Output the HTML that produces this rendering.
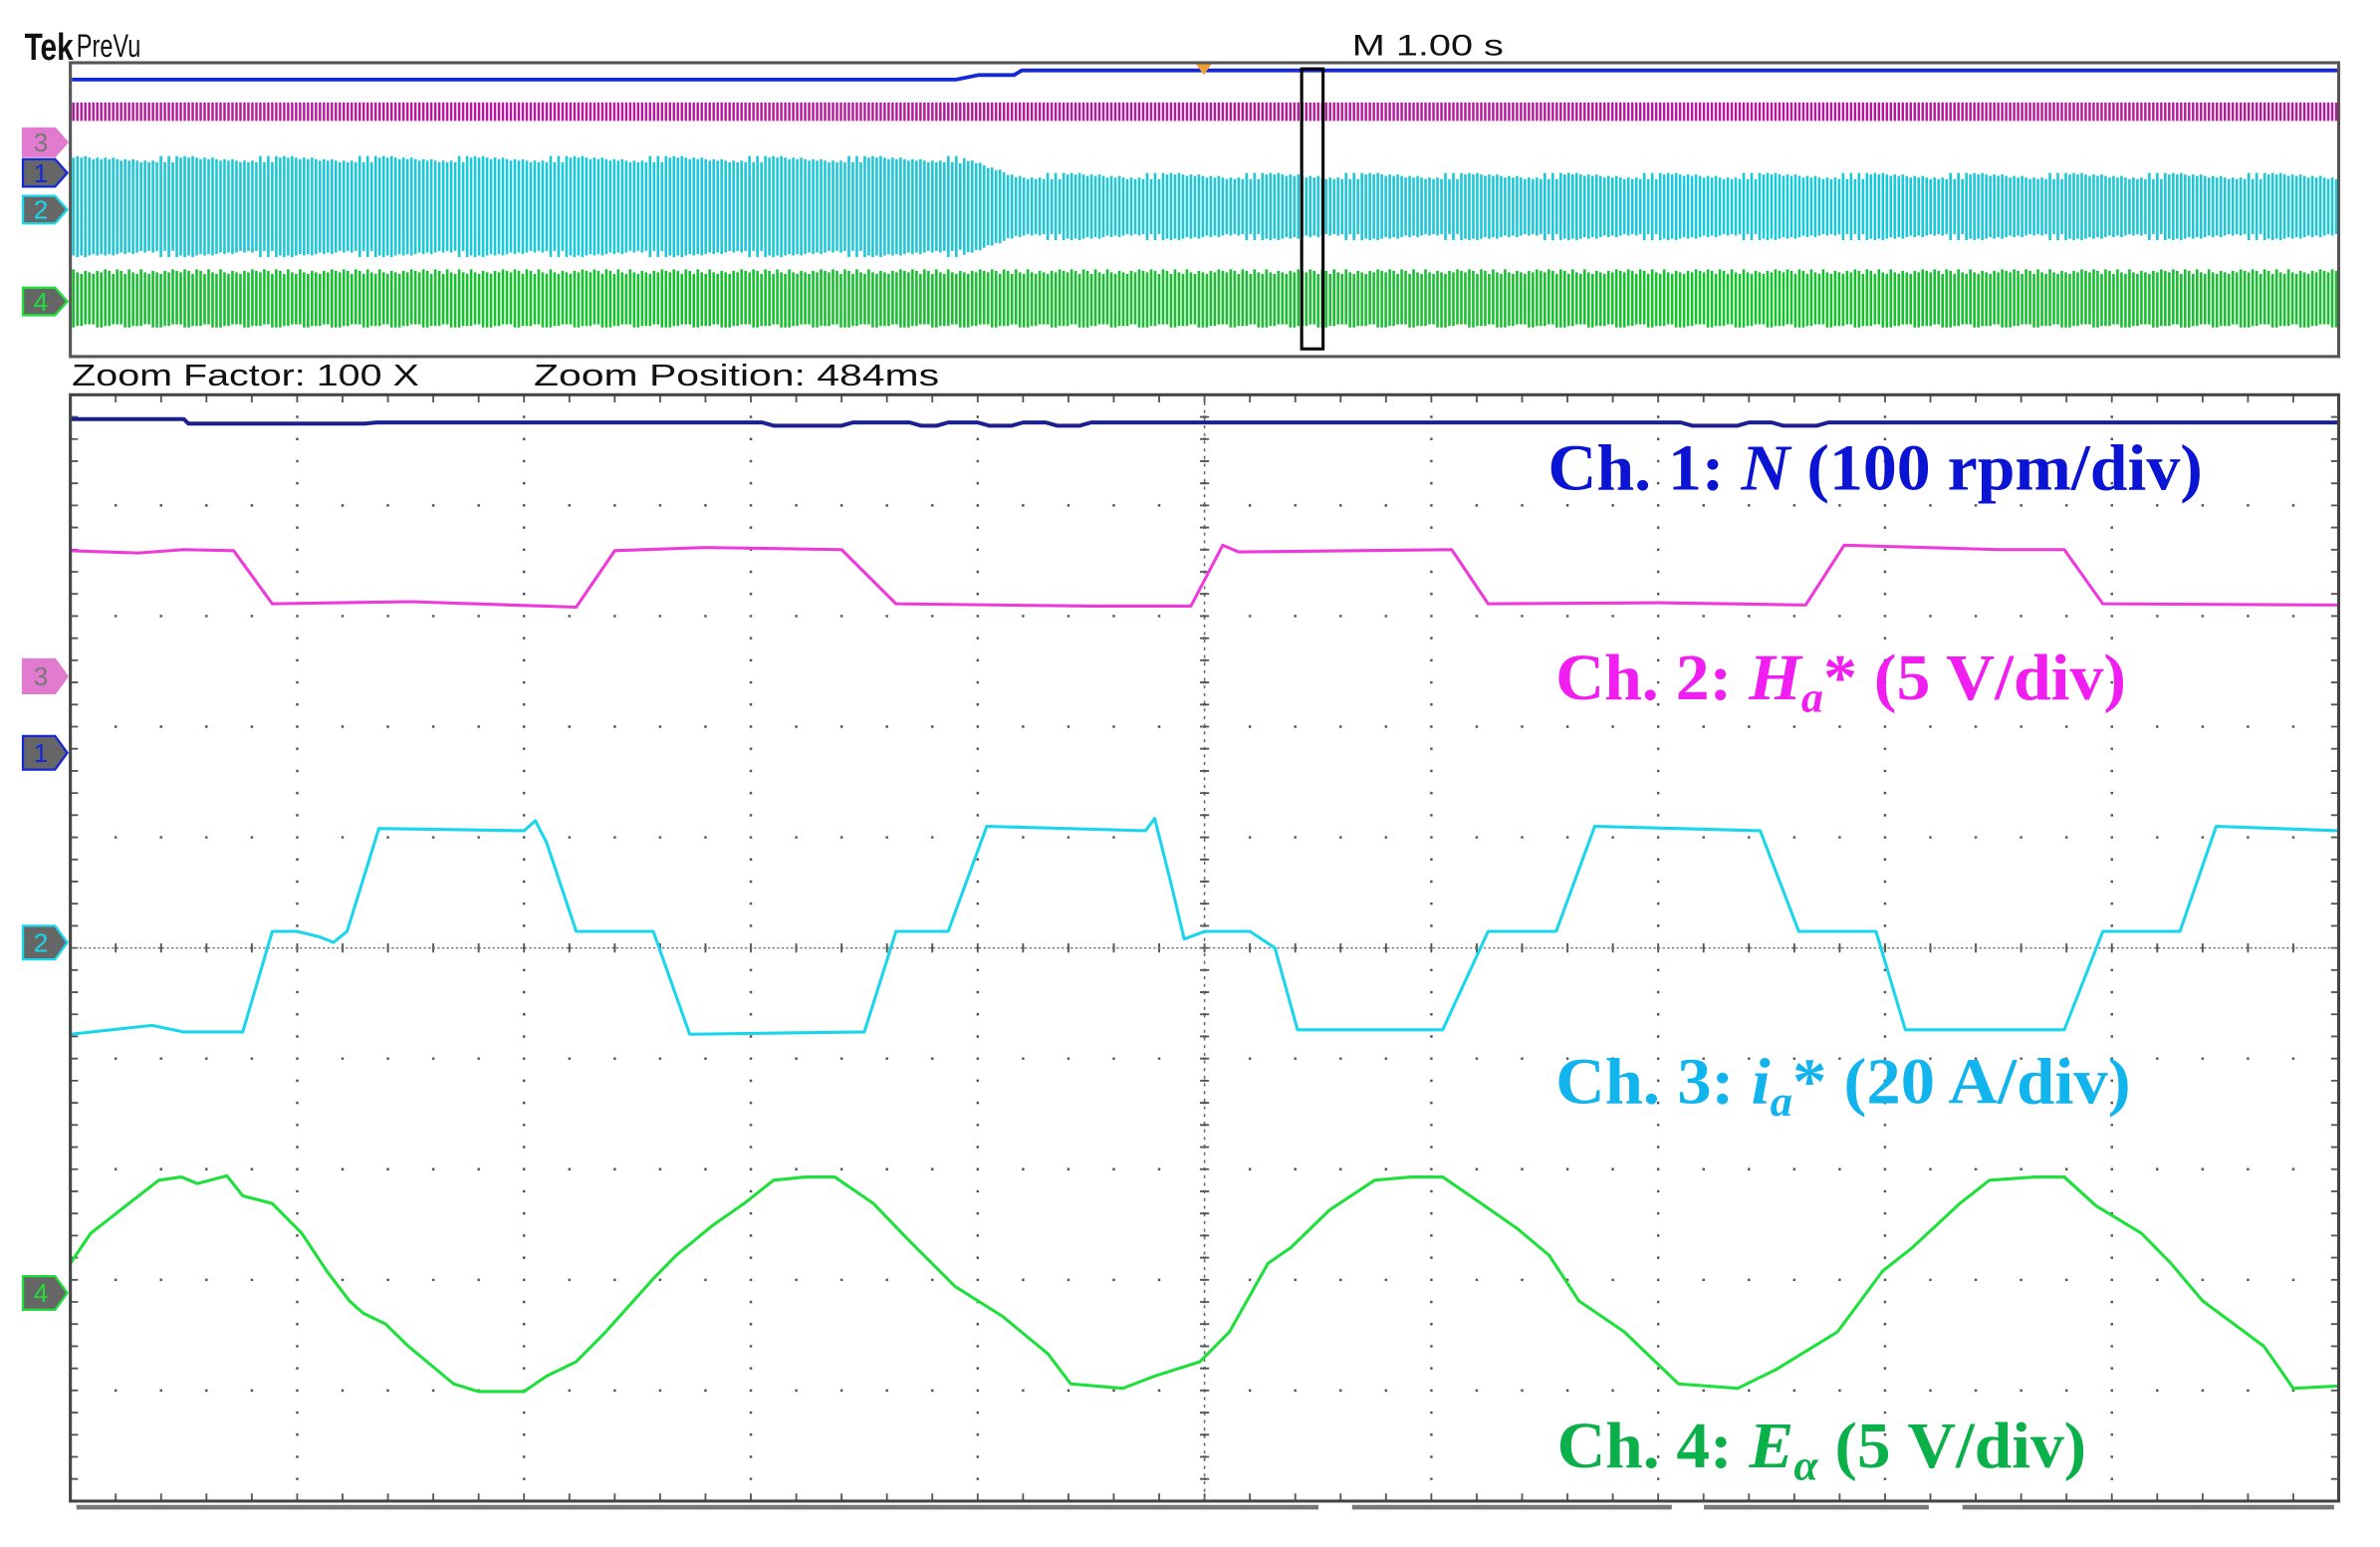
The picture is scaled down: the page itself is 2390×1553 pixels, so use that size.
<!DOCTYPE html>
<html><head><meta charset="utf-8"><style>
html,body{margin:0;padding:0;background:#fff;}
svg{display:block;}
</style></head><body>
<svg id="scope" width="2390" height="1553" viewBox="0 0 1556 1011" preserveAspectRatio="none" xmlns="http://www.w3.org/2000/svg">
<rect x="0" y="0" width="1556" height="1011" fill="#fff"/>
<text x="16" y="39" font-family="Liberation Sans, sans-serif" font-weight="bold" font-size="25" fill="#111" textLength="32" lengthAdjust="spacingAndGlyphs">Tek</text>
<text x="50" y="37" font-family="Liberation Sans, sans-serif" font-size="21" fill="#111" textLength="42" lengthAdjust="spacingAndGlyphs">PreVu</text>
<text x="884" y="36" font-family="Liberation Sans, sans-serif" font-size="19" fill="#111" textLength="99" lengthAdjust="spacingAndGlyphs">M 1.00 s</text>
<g id="overview"></g>
<rect x="46" y="41" width="1483" height="192" fill="none" stroke="#555" stroke-width="2"/>
<polygon points="782,42 792,42 787,49" fill="#f0a030"/>
<rect x="851" y="45" width="14" height="183" fill="none" stroke="#000" stroke-width="2"/>
<text x="47" y="252" font-family="Liberation Sans, sans-serif" font-size="20" fill="#111" textLength="227" lengthAdjust="spacingAndGlyphs">Zoom Factor: 100 X</text>
<text x="349" y="252" font-family="Liberation Sans, sans-serif" font-size="20" fill="#111" textLength="265" lengthAdjust="spacingAndGlyphs">Zoom Position: 484ms</text>
<g id="grid"></g>
<g id="traces"></g>
<rect x="46" y="258" width="1483" height="723" fill="none" stroke="#444" stroke-width="2"/>
<g id="markers"></g>
<g stroke="#777" stroke-width="3" fill="none">
<line x1="50" y1="985" x2="862" y2="985"/><line x1="884" y1="985" x2="1093" y2="985"/><line x1="1114" y1="985" x2="1261" y2="985"/><line x1="1283" y1="985" x2="1526" y2="985"/>
</g>
<text x="1012" y="320" font-family="Liberation Serif, serif" font-weight="bold" font-size="43" fill="#0a14d2" textLength="428" lengthAdjust="spacingAndGlyphs">Ch. 1: <tspan font-style="italic">N</tspan> (100 rpm/div)</text>
<text x="1017" y="457" font-family="Liberation Serif, serif" font-weight="bold" font-size="43" fill="#f01ef0" textLength="373" lengthAdjust="spacingAndGlyphs">Ch. 2: <tspan font-style="italic">H</tspan><tspan font-style="italic" font-size="28" dy="8">a</tspan><tspan dy="-8">* (5 V/div)</tspan></text>
<text x="1017" y="721" font-family="Liberation Serif, serif" font-weight="bold" font-size="43" fill="#12b4ee" textLength="376" lengthAdjust="spacingAndGlyphs">Ch. 3: <tspan font-style="italic">i</tspan><tspan font-style="italic" font-size="28" dy="8">a</tspan><tspan dy="-8">* (20 A/div)</tspan></text>
<text x="1018" y="959" font-family="Liberation Serif, serif" font-weight="bold" font-size="43" fill="#0cb04a" textLength="346" lengthAdjust="spacingAndGlyphs">Ch. 4: <tspan font-style="italic">E</tspan><tspan font-style="italic" font-size="28" dy="8">α</tspan><tspan dy="-8"> (5 V/div)</tspan></text>
</svg>
<script>
// ---- data (time in divisions 0..10, value in divisions, 0 = screen centre) ----
const ch1Time = [0,0.5,0.52,1.3,1.35,3.05,3.1,3.4,3.45,3.7,3.75,3.82,3.87,4.0,4.05,4.15,4.2,4.3,4.35,4.45,4.5,5.05,5.3,7.1,7.15,7.35,7.4,7.5,7.55,7.7,7.75,7.9,7.95,10];
const ch1Val  = [4.78,4.78,4.74,4.74,4.75,4.75,4.72,4.72,4.75,4.75,4.72,4.72,4.75,4.75,4.72,4.72,4.75,4.75,4.72,4.72,4.75,4.75,4.75,4.75,4.72,4.72,4.75,4.75,4.72,4.72,4.75,4.75,4.75,4.75];
const ch2Time = [0,0.3,0.5,0.72,0.89,1.5,2.23,2.40,2.8,3.40,3.64,4.5,4.94,5.08,5.15,6.09,6.25,7.0,7.65,7.82,8.5,8.79,8.96,10];
const ch2Val  = [3.59,3.57,3.60,3.59,3.11,3.13,3.08,3.59,3.62,3.60,3.11,3.09,3.09,3.64,3.58,3.60,3.11,3.12,3.10,3.64,3.60,3.60,3.11,3.10];
const ch3Time = [0,0.36,0.5,0.76,0.89,1.0,1.10,1.16,1.22,1.36,2.0,2.05,2.1,2.23,2.57,2.73,3.50,3.64,3.87,4.04,4.74,4.78,4.85,4.91,5.0,5.2,5.31,5.41,6.05,6.25,6.55,6.72,7.45,7.62,7.96,8.09,8.79,8.96,9.30,9.46,10];
const ch3Val  = [-0.78,-0.70,-0.76,-0.76,0.15,0.15,0.10,0.05,0.15,1.08,1.06,1.15,0.95,0.15,0.15,-0.78,-0.76,0.15,0.15,1.10,1.06,1.17,0.6,0.08,0.15,0.15,0.0,-0.74,-0.74,0.15,0.15,1.10,1.06,0.15,0.15,-0.74,-0.74,0.15,0.15,1.10,1.06];
const ch4Time = [0,0.09,0.22,0.39,0.49,0.56,0.69,0.76,0.89,1.02,1.13,1.23,1.29,1.39,1.49,1.69,1.80,2.00,2.10,2.23,2.36,2.57,2.67,2.83,2.97,3.10,3.24,3.37,3.54,3.70,3.90,4.11,4.31,4.41,4.64,4.78,4.98,5.11,5.28,5.38,5.55,5.75,5.91,6.05,6.22,6.38,6.52,6.65,6.85,7.09,7.35,7.52,7.79,7.99,8.12,8.33,8.46,8.66,8.79,8.93,9.13,9.26,9.40,9.67,9.80,10.0];
const ch4Val  = [-2.85,-2.58,-2.37,-2.10,-2.07,-2.13,-2.06,-2.24,-2.31,-2.58,-2.92,-3.19,-3.30,-3.40,-3.60,-3.94,-4.01,-4.01,-3.87,-3.74,-3.47,-2.99,-2.78,-2.51,-2.31,-2.10,-2.07,-2.07,-2.31,-2.65,-3.06,-3.33,-3.67,-3.94,-3.98,-3.87,-3.74,-3.47,-2.85,-2.71,-2.37,-2.10,-2.07,-2.07,-2.31,-2.54,-2.78,-3.19,-3.47,-3.94,-3.98,-3.81,-3.47,-2.92,-2.71,-2.31,-2.10,-2.07,-2.07,-2.33,-2.58,-2.85,-3.19,-3.60,-3.98,-3.96];

const NS = 'http://www.w3.org/2000/svg';
const X0 = 46, X1 = 1529, Y0 = 258, Y1 = 981;
const DX = (X1 - X0) / 10, DY = (Y1 - Y0) / 10, YC = (Y0 + Y1) / 2;
function xs(t){ return X0 + t * DX; }
function ys(v){ return YC - v * DY; }
function mk(tag, attrs, parent){ const e = document.createElementNS(NS, tag); for (const k in attrs) e.setAttribute(k, attrs[k]); parent.appendChild(e); return e; }

// grid
const grid = document.getElementById('grid');
let gd = '';
for (let i = 1; i < 10; i++) {
  const x = xs(i);
  for (let j = 0; j <= 50; j++) { const y = Y0 + j * DY / 5; gd += `M${x-0.8},${y-0.8}h1.6v1.6h-1.6z`; }
}
for (let k = 1; k < 10; k++) {
  const y = Y0 + k * DY;
  for (let j = 0; j <= 50; j++) { const x = X0 + j * DX / 5; gd += `M${x-0.8},${y-0.8}h1.6v1.6h-1.6z`; }
}
for (let j = 0; j <= 50; j++) {
  const x = X0 + j * DX / 5;
  gd += `M${x-0.6},${Y0}h1.2v5h-1.2z M${x-0.6},${Y1-5}h1.2v5h-1.2z`;
  const y = Y0 + j * DY / 5;
  gd += `M${X0},${y-0.6}h5v1.2h-5z M${X1-5},${y-0.6}h5v1.2h-5z`;
  gd += `M${xs(5)-3},${y-0.6}h6v1.2h-6z M${x-0.6},${YC-3}h1.2v6h-1.2z`;
}
const gp = mk('path', {d: gd, fill: '#555'}, grid);


const cl = mk('line', {x1: X0, x2: X1, y1: YC, y2: YC, stroke: '#777', 'stroke-width': 1, 'stroke-dasharray': '1.5 1.5'}, grid);


const vl = mk('line', {x1: xs(5), x2: xs(5), y1: Y0, y2: Y1, stroke: '#666', 'stroke-width': 1, 'stroke-dasharray': '2 3'}, grid);



// traces
const traces = document.getElementById('traces');
function trace(times, vals, color, w, name){
  let d = '';
  for (let i = 0; i < times.length; i++) d += (i ? 'L' : 'M') + xs(times[i]).toFixed(1) + ',' + ys(vals[i]).toFixed(1);
  const p = mk('path', {d: d, fill: 'none', stroke: color, 'stroke-width': w, 'stroke-linejoin': 'round'}, traces);
  
  
}
trace(ch1Time, ch1Val, '#1a2090', 2.6, 'ch1-speed-trace');
trace(ch2Time, ch2Val, '#ee3adb', 2.0, 'ch2-hall-trace');
trace(ch3Time, ch3Val, '#1ad6ec', 2.0, 'ch3-current-trace');
trace(ch4Time, ch4Val, '#1ee03a', 2.0, 'ch4-emf-trace');

// overview bands
const ov = document.getElementById('overview');
let mg = '', cy = '', gr = '';
for (let x = 48; x < 1528; x += 2.6) {
  mg += `M${x.toFixed(1)},67V79`;
  const big = x < 625;
  const t = big ? 0 : Math.min(1, (x - 625) / 40);
  const top = 104 + 11 * t, bot = 166 - 11 * t;
  const jit = ((Math.floor(x) * 7) % 5) - 2;
  cy += `M${x.toFixed(1)},${top + jit}V${bot - jit}`;
  gr += `M${x.toFixed(1)},${176 + (((Math.floor(x) * 3) % 4))}V${214 - (((Math.floor(x) * 5) % 3))}`;
}
const b1 = mk('path', {d: 'M47,52H625L640,49H663L668,46H1528', fill: 'none', stroke: '#1428d8', 'stroke-width': 2.5}, ov);


const b2 = mk('path', {d: mg, stroke: '#b8189e', 'stroke-width': 1.6}, ov);


const b3 = mk('path', {d: cy, stroke: '#1cc8d8', 'stroke-width': 1.7}, ov);


const b4 = mk('path', {d: gr, stroke: '#18c030', 'stroke-width': 1.7}, ov);



// channel markers
const mks = document.getElementById('markers');
const markerY = [93, 113, 137, 197, 442, 492, 616, 845];
const markerLbl = ['3','1','2','4','3','1','2','4'];
const markerFill = {'3':'#e27ad0','1':'#666','2':'#666','4':'#666'};
const markerStroke = {'3':'#e27ad0','1':'#1428d8','2':'#1ad6ec','4':'#1ee03a'};
for (let i = 0; i < markerY.length; i++) {
  const y = markerY[i], l = markerLbl[i];
  const h = i < 4 ? 9 : 11;
  const p = mk('polygon', {points: `15,${y-h} 36,${y-h} 44,${y} 36,${y+h} 15,${y+h}`, fill: markerFill[l], stroke: markerStroke[l], 'stroke-width': 1.5}, mks);
  
  
  const t = mk('text', {x: 22, y: y + 6, 'font-family': 'Liberation Sans, sans-serif', 'font-size': 17, fill: l === '3' ? '#777' : markerStroke[l]}, mks);
  t.textContent = l;
  
  
}
</script>
</body></html>
